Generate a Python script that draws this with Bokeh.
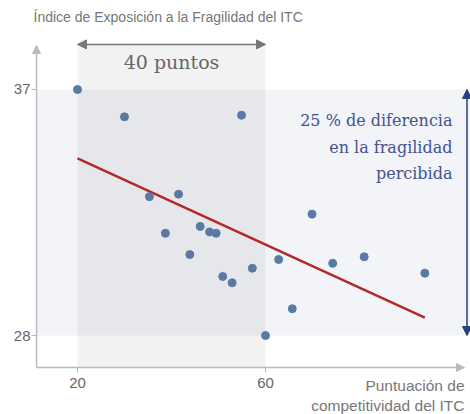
from bokeh.plotting import figure
from bokeh.models import Label, Arrow, NormalHead, BoxAnnotation, FixedTicker
from bokeh.embed import file_html
from bokeh.resources import INLINE

# ---- data ----
competitiveness = [20.0, 30.0, 54.9, 35.3, 41.5, 38.7, 46.1, 48.1, 49.5, 43.9,
                   50.9, 52.9, 57.2, 62.8, 65.7, 60.0, 69.9, 74.3, 81.0, 93.9]
fragility = [37.0, 36.0, 36.06, 33.08, 33.17, 31.74, 31.99, 31.79, 31.74, 30.96,
             30.16, 29.93, 30.46, 30.78, 28.98, 28.0, 32.44, 30.64, 30.88, 30.28]
trend_x = [20.0, 93.9]
trend_y = [34.48, 28.65]
x_ticks = [20, 60]
y_ticks = [28, 37]
band_x = [20, 60]
band_y = [28, 37]

title_text = "Índice de Exposición a la Fragilidad del ITC"
x_title = ["Puntuación de", "competitividad del ITC"]
span_text = "40 puntos"
diff_text = ["25 % de diferencia", "en la fragilidad", "percibida"]

# axis origin and plotting area limits (data units)
AX_X, AX_Y = 11.28, 26.83
TOP = 38.68

p = figure(width=470, height=414, x_range=(3.617, 103.617), y_range=(25.11, 40.256),
           output_backend="svg", toolbar_location=None,
           min_border_left=0, min_border_right=0, min_border_top=0,
           min_border_bottom=0)
p.outline_line_color = None
p.grid.visible = False
p.background_fill_color = "white"

# bands
p.add_layout(BoxAnnotation(left=AX_X, bottom=band_y[0], top=band_y[1],
                           fill_color="#f2f4f8", fill_alpha=1.0, line_color=None,
                           level="underlay"))
p.add_layout(BoxAnnotation(left=band_x[0], right=band_x[1], bottom=AX_Y, top=TOP,
                           fill_color="#000000", fill_alpha=0.05, line_color=None,
                           level="underlay"))

# axes (fixed at the axis origin inside the canvas)
for ax in (p.xaxis[0], p.yaxis[0]):
    ax.axis_line_color = None
    ax.major_tick_line_color = "#bbbbbb"
    ax.major_tick_out = 5
    ax.major_tick_in = 0
    ax.minor_tick_line_color = None
    ax.major_label_text_font = "Liberation Sans"
    ax.major_label_text_font_size = "15px"
    ax.major_label_text_color = "#666666"
p.xaxis[0].ticker = FixedTicker(ticks=x_ticks)
p.yaxis[0].ticker = FixedTicker(ticks=y_ticks)
p.xaxis[0].fixed_location = AX_Y
p.yaxis[0].fixed_location = AX_X
p.xaxis[0].major_label_standoff = 6
p.yaxis[0].major_label_standoff = 1

p.add_layout(Arrow(x_start=AX_X, y_start=AX_Y, x_end=AX_X, y_end=38.61,
                   line_color="#bbbbbb", line_width=1.5,
                   end=NormalHead(size=8, fill_color="#bbbbbb", line_color="#bbbbbb")))
p.add_layout(Arrow(x_start=AX_X, y_start=AX_Y, x_end=102.34, y_end=AX_Y,
                   line_color="#bbbbbb", line_width=1.5,
                   end=NormalHead(size=8, fill_color="#bbbbbb", line_color="#bbbbbb")))

# trend line and points
p.line(trend_x, trend_y, line_color="#b5282a", line_width=2.5)
p.scatter(competitiveness, fragility, size=8, fill_color="#5a7aa3",
          line_color="#5a7aa3")

# 40 puntos arrow
p.add_layout(Arrow(x_start=band_x[0], y_start=38.65, x_end=band_x[1], y_end=38.65,
                   line_color="#777777", line_width=1.5,
                   start=NormalHead(size=9, fill_color="#777777", line_color="#777777"),
                   end=NormalHead(size=9, fill_color="#777777", line_color="#777777")))
p.add_layout(Label(x=40, y=37.99, text=span_text, text_align="center",
                   text_baseline="middle", text_font="DejaVu Serif",
                   text_font_size="19px", text_color="#666666"))

# vertical blue arrow
p.add_layout(Arrow(x_start=102.87, y_start=band_y[0], x_end=102.87, y_end=band_y[1],
                   line_color="#2b3f80", line_width=1.5,
                   start=NormalHead(size=9, fill_color="#2b3f80", line_color="#2b3f80"),
                   end=NormalHead(size=9, fill_color="#2b3f80", line_color="#2b3f80")))
for txt, yy in zip(diff_text, [35.87, 34.88, 33.93]):
    p.add_layout(Label(x=99.79, y=yy, text=txt, text_align="right",
                       text_baseline="middle", text_font="DejaVu Serif",
                       text_font_size="16px", text_color="#44528f"))

# title and x-axis title
p.add_layout(Label(x=10.64, y=39.67, text=title_text, text_align="left",
                   text_baseline="middle", text_font="Liberation Sans",
                   text_font_size="14px", text_color="#777777"))
for txt, yy in zip(x_title, [26.17, 25.44]):
    p.add_layout(Label(x=102.34, y=yy, text=txt, text_align="right",
                       text_baseline="middle", text_font="Liberation Sans",
                       text_font_size="15.5px", text_color="#777777"))

open("out.html", "w").write(file_html(p, INLINE))
